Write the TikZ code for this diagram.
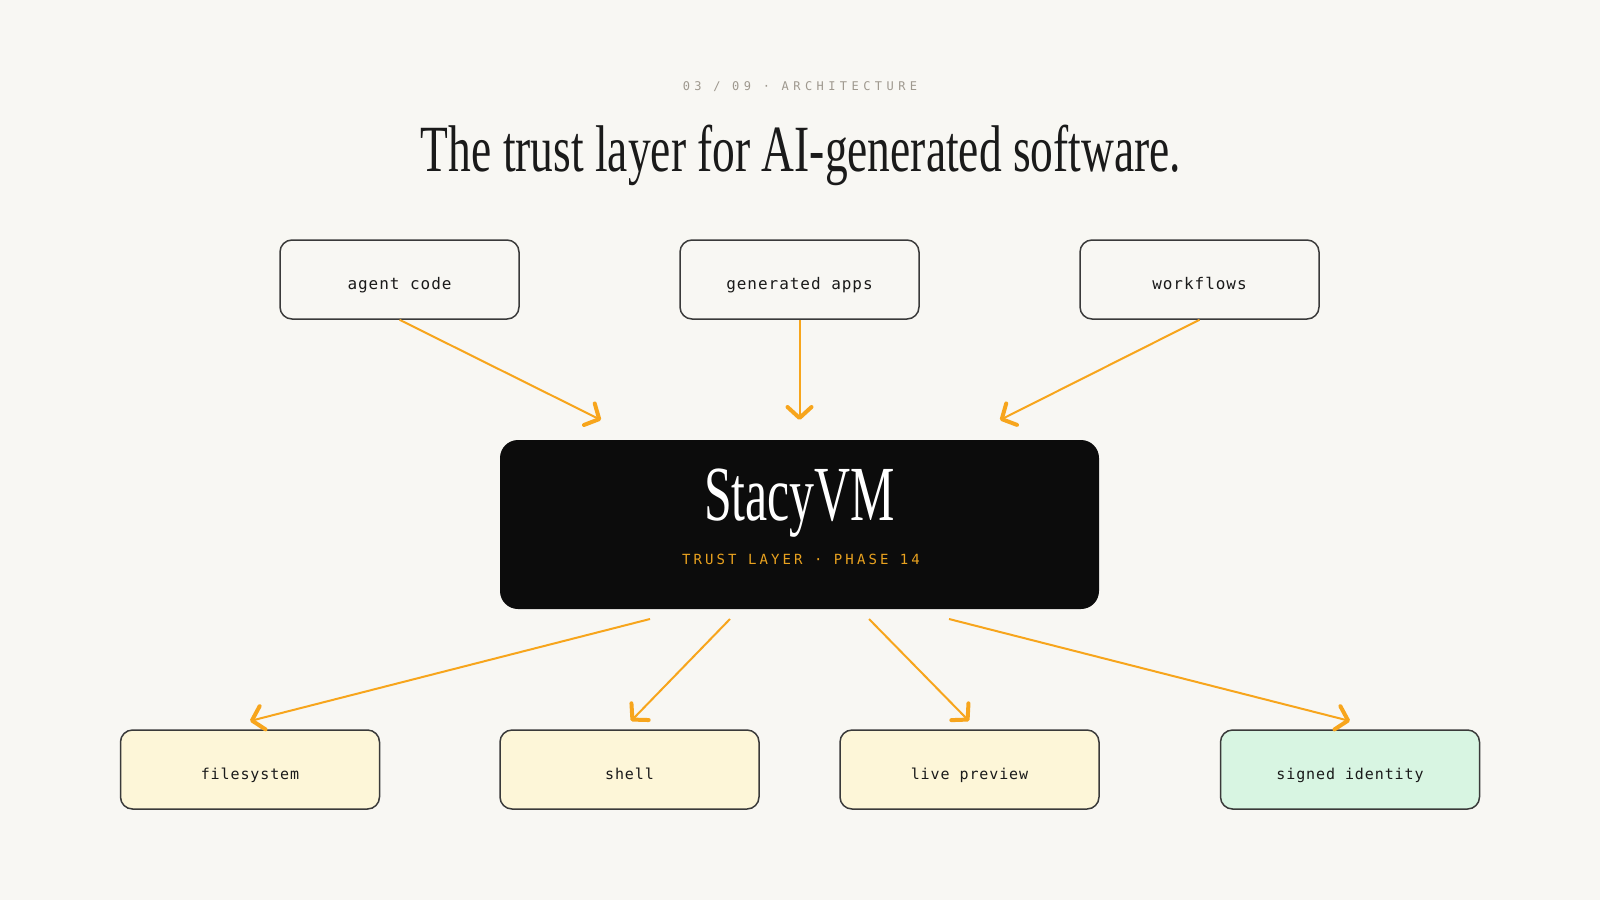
\documentclass[tikz,border=0pt]{standalone}
\usepackage{fontspec}
\usepackage{graphicx}
\usetikzlibrary{arrows.meta}
\setmainfont{Liberation Serif}
\newfontfamily\labfont[LetterSpace=6]{DejaVu Sans Mono}
\newfontfamily\hdrfont[LetterSpace=37]{DejaVu Sans Mono}
\newfontfamily\tagfont[LetterSpace=22]{DejaVu Sans Mono}
\definecolor{bgc}{HTML}{F8F7F3}
\definecolor{arrc}{HTML}{F7A51C}
\definecolor{tagc}{HTML}{E9A21F}
\definecolor{bordc}{HTML}{3A3A3A}
\definecolor{yelc}{HTML}{FDF6D8}
\definecolor{grnc}{HTML}{D8F5E2}
\definecolor{vmc}{HTML}{0C0C0C}
\definecolor{hdrc}{HTML}{9E988E}
\definecolor{txtc}{HTML}{1A1A1A}
\tikzset{
  boxbase/.style={draw=bordc, line width=1.5pt, rounded corners=12pt, inner sep=0pt, text=txtc, text height=20pt, text depth=0pt},
  topbox/.style={boxbase, fill=bgc, minimum width=239pt, minimum height=79pt, font=\labfont\fontsize{16}{18}\selectfont},
  botbox/.style={boxbase, fill=yelc, minimum width=259pt, minimum height=79pt, font=\labfont\fontsize{15}{17}\selectfont},
  idbox/.style={botbox, fill=grnc},
  vmbox/.style={fill=vmc, rounded corners=18pt, minimum width=599pt, minimum height=169pt, inner sep=0pt},
  arr/.style={draw=arrc, line width=2pt, -{Straight Barb[length=11pt,width=24pt,line width=4pt,round]}},
  pt/.style={coordinate}
}
\begin{document}
\begin{tikzpicture}[x=1pt,y=-1pt]
\fill[bgc] (0,0) rectangle (1600,900);
\useasboundingbox (0,0) rectangle (1600,900);

\node[anchor=base, text=hdrc, font=\hdrfont\fontsize{12}{14}\selectfont] (hdr) at (800,90) {03 / 09 · ARCHITECTURE};
\node[anchor=base, text=txtc, inner sep=0pt] (title) at (801,171)
  {\resizebox{760pt}{\height}{\fontsize{66}{70}\selectfont The trust layer for AI-generated software.}};

\node[topbox] (agent) at (399.5,279.5) {agent code};
\node[topbox] (apps) at (799.5,279.5) {generated apps};
\node[topbox] (flows) at (1199.5,279.5) {workflows};

\node[vmbox] (vm) at (799.5,524.5) {};
\node[anchor=base, text=white, inner sep=0pt] (vmname) at (799.5,520)
  {\resizebox{191pt}{\height}{\fontsize{78}{80}\selectfont StacyVM}};
\node[anchor=base, text=tagc, font=\tagfont\fontsize{14}{16}\selectfont] (tag) at (801,564) {TRUST LAYER · PHASE 14};

\node[botbox] (fs) at (250,769.5) {filesystem};
\node[botbox] (sh) at (629.5,769.5) {shell};
\node[botbox] (lp) at (969.5,769.5) {live preview};
\node[idbox] (id) at (1350,769.5) {signed identity};

\coordinate (inA) at (601,420);
\coordinate (inB) at (799.5,420);
\coordinate (inC) at (1000,420);
\coordinate (outA) at (650,619);
\coordinate (outB) at (730,619);
\coordinate (outC) at (869,619);
\coordinate (outD) at (949,619);
\coordinate (endA) at (250,721);
\coordinate (endB) at (631,721);
\coordinate (endC) at (969,721);
\coordinate (endD) at (1350,721);

\draw[arr] (agent.south) -- (inA);
\draw[arr] (apps.south) -- (inB);
\draw[arr] (flows.south) -- (inC);
\draw[arr] (outA) -- (endA);
\draw[arr] (outB) -- (endB);
\draw[arr] (outC) -- (endC);
\draw[arr] (outD) -- (endD);
\end{tikzpicture}
\end{document}
